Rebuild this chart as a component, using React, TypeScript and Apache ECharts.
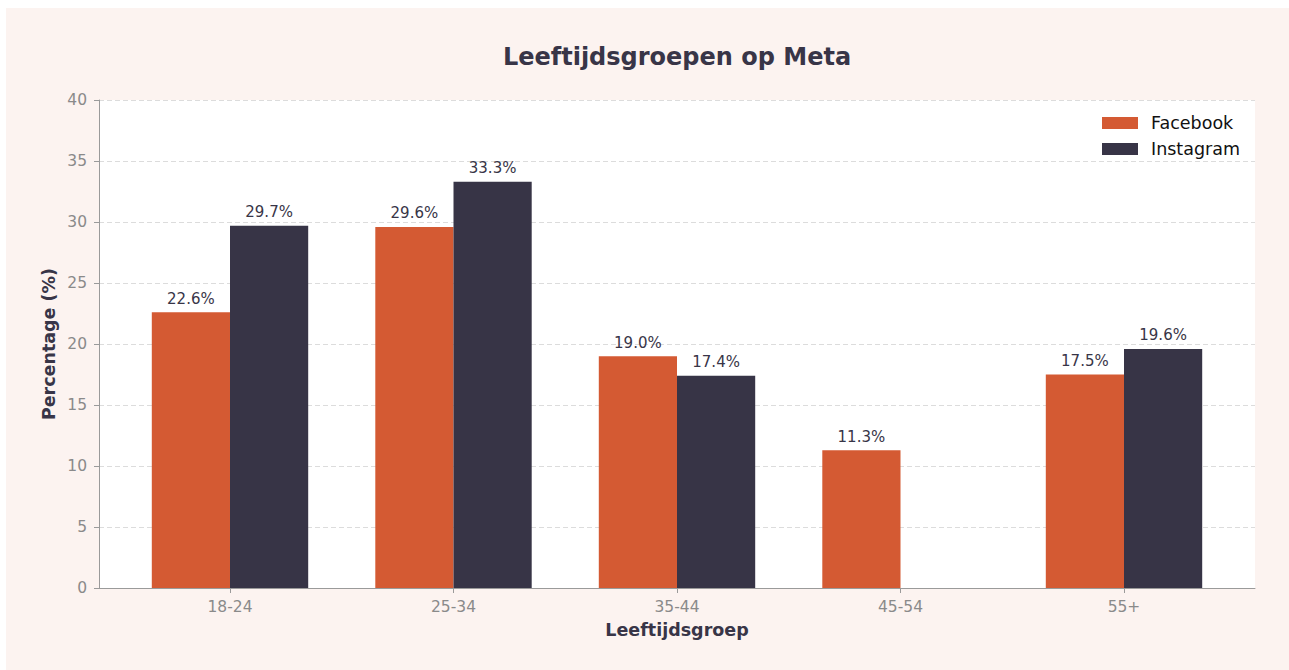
import React, { useEffect, useRef } from "react";
import * as echarts from "echarts";

const categories = ["18-24", "25-34", "35-44", "45-54", "55+"];
const facebook = [22.6, 29.6, 19.0, 11.3, 17.5];
const instagram: (number | null)[] = [29.7, 33.3, 17.4, null, 19.6];
const yTicksMax = 40;
const yTicksStep = 5;

const FONT = "DejaVu Sans";
const DARK = "#383547";
const GRAY = "#8a8a8a";

export default function App() {
  const ref = useRef<HTMLDivElement>(null);
  useEffect(() => {
    if (!ref.current) return;
    const chart = echarts.init(ref.current, undefined, { renderer: "svg" });
    const labelCfg = {
      show: true,
      position: "top" as const,
      distance: 6,
      color: DARK,
      fontSize: 15,
      fontFamily: FONT,
      formatter: (p: any) => (p.value == null ? "" : Number(p.value).toFixed(1) + "%"),
    };
    chart.setOption({
      animation: false,
      backgroundColor: "#fcf3f0",
      textStyle: { fontFamily: FONT },
      graphic: [
        {
          type: "rect",
          shape: { x: 93, y: 92, width: 1156, height: 488 },
          style: { fill: "#ffffff" },
          z: -10,
          silent: true,
        },
        {
          type: "text",
          x: 671,
          y: 49,
          style: {
            text: "Leeftijdsgroepen op Meta",
            fontFamily: FONT,
            fontSize: 24,
            fontWeight: "bold",
            fill: DARK,
            align: "center",
            verticalAlign: "middle",
          },
        },
      ],
      legend: {
        orient: "vertical",
        left: 1096,
        top: 106,
        padding: 0,
        itemWidth: 36,
        itemHeight: 12,
        itemGap: 8,
        icon: "rect",
        textStyle: { fontFamily: FONT, fontSize: 17.5, color: "#111", padding: [0, 0, 0, 8] },
        data: ["Facebook", "Instagram"],
      },
      grid: [
        { left: 93, right: 34, top: 92, bottom: 82 },
        { left: 112.25, right: 53.25, top: 92, bottom: 82 },
      ],
      xAxis: [
        {
          type: "value",
          gridIndex: 0,
          min: 0,
          max: 1,
          axisLine: { show: true, lineStyle: { color: "#9a9a9a", width: 1 } },
          axisTick: { show: false },
          axisLabel: { show: false },
          splitLine: { show: false },
        },
        {
          type: "category",
          gridIndex: 1,
          data: categories,
          axisLine: { show: false },
          axisTick: { show: true, alignWithLabel: true, length: 5, lineStyle: { color: "#9a9a9a" } },
          axisLabel: { color: GRAY, fontSize: 15.5, fontFamily: FONT, margin: 11 },
          name: "Leeftijdsgroep",
          nameLocation: "middle",
          nameGap: 33,
          nameTextStyle: { fontFamily: FONT, fontSize: 17.5, fontWeight: "bold", color: DARK },
        },
      ],
      yAxis: [
        {
          type: "value",
          gridIndex: 0,
          min: 0,
          max: yTicksMax,
          interval: yTicksStep,
          axisLine: { show: true, lineStyle: { color: "#9a9a9a", width: 1 } },
          axisTick: { show: true, length: 5, lineStyle: { color: "#9a9a9a" } },
          axisLabel: { color: GRAY, fontSize: 15.5, fontFamily: FONT, margin: 12 },
          splitLine: { show: true, lineStyle: { color: "#dcdcdc", type: [5, 3], width: 1 } },
          name: "Percentage (%)",
          nameLocation: "middle",
          nameGap: 41,
          nameMoveOverlap: false,
          nameTextStyle: { fontFamily: FONT, fontSize: 17.5, fontWeight: "bold", color: DARK },
        },
        {
          type: "value",
          gridIndex: 1,
          min: 0,
          max: yTicksMax,
          interval: yTicksStep,
          show: false,
          splitLine: { show: false },
        },
      ],
      series: [
        {
          name: "Facebook",
          type: "bar",
          xAxisIndex: 1,
          yAxisIndex: 1,
          data: facebook,
          barWidth: 78.2,
          barGap: "0%",
          itemStyle: { color: "#d45a33" },
          label: labelCfg,
        },
        {
          name: "Instagram",
          type: "bar",
          xAxisIndex: 1,
          yAxisIndex: 1,
          data: instagram,
          barWidth: 78.2,
          barGap: "0%",
          itemStyle: { color: "#373446" },
          label: labelCfg,
        },
      ],
    });
    return () => chart.dispose();
  }, []);
  return (
    <div
      ref={ref}
      style={{ position: "fixed", left: 6, top: 8, width: 1283, height: 662 }}
    />
  );
}
